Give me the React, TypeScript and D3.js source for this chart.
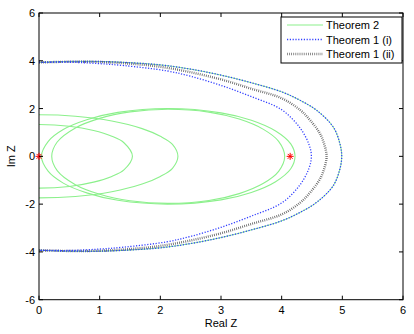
import React from 'react';
import * as d3 from 'd3';

// axis ticks
const xTicks = [0, 1, 2, 3, 4, 5, 6];
const yTicks = [-6, -4, -2, 0, 2, 4, 6];

// Theorem 2 curves, upper halves (real, imag)
const thm2SmallA = [[-0.5, 1.26], [0, 1.33], [0.5, 1.26], [0.9, 1.08], [1.2, 0.84], [1.4, 0.57], [1.54, 0]];
const thm2SmallB = [[-0.6, 1.68], [0, 1.74], [0.6, 1.68], [1.2, 1.48], [1.7, 1.16], [2.0, 0.84], [2.2, 0.5], [2.29, 0]];
const thm2BigC = [[0.04, 0], [0.15, 0.62], [0.4, 1.12], [0.8, 1.54], [1.3, 1.84], [2.13, 2.0], [3.0, 1.82], [3.5, 1.51], [3.9, 1.06], [4.15, 0.52], [4.22, 0]];
const thm2BigD = [[0.21, 0], [0.3, 0.6], [0.6, 1.19], [1.0, 1.59], [1.5, 1.86], [2.13, 1.97], [2.8, 1.85], [3.3, 1.56], [3.7, 1.13], [3.95, 0.63], [4.05, 0]];

// Theorem 1 boundaries, upper halves
const thm1iOuter = [[0, 3.93], [0.5, 3.97], [1.0, 3.97], [1.5, 3.92], [2.0, 3.83], [2.5, 3.65], [3.0, 3.4], [3.5, 3.08], [4.0, 2.7], [4.3, 2.35], [4.58, 1.92], [4.85, 1.23], [4.96, 0.53], [4.99, 0]];
const thm1iInner = [[0, 3.93], [0.5, 3.94], [1.0, 3.88], [1.4, 3.8], [2.1, 3.58], [2.5, 3.35], [3.0, 2.97], [3.5, 2.5], [4.0, 1.95], [4.3, 1.2], [4.45, 0.5], [4.49, 0]];
const thm1ii = [[0, 3.93], [0.5, 3.96], [1.0, 3.95], [1.5, 3.88], [2.0, 3.75], [2.5, 3.52], [3.0, 3.22], [3.5, 2.83], [4.0, 2.43], [4.3, 1.95], [4.47, 1.51], [4.62, 1.0], [4.69, 0.6], [4.74, 0]];

// red star markers
const stars = [[0, 0], [4.14, 0]];

const legendItems = ['Theorem 2', 'Theorem 1 (i)', 'Theorem 1 (ii)'];

const GREEN = '#8cf08c';
const BLUE = '#3340ff';
const DARK = '#3a3a3a';

const W = 414;
const H = 334;
const M = { left: 39, right: 403, top: 13, bottom: 299.7 };
const FONT = '"Liberation Sans", Arial, Helvetica, sans-serif';

// mirror upper half into a full curve going down the other side
const openFull = (pts: number[][]) => {
  const low = pts.slice(0, -1).reverse().map(([x, y]) => [x, -y]);
  return [...pts, ...low];
};
const closedFull = (pts: number[][]) => {
  const low = pts.slice(1, -1).reverse().map(([x, y]) => [x, -y]);
  return [...pts, ...low];
};

export default function App() {
  const x = d3.scaleLinear().domain([0, 6]).range([M.left, M.right]);
  const y = d3.scaleLinear().domain([-6, 6]).range([M.bottom, M.top]);

  const line = d3.line<number[]>().x((d) => x(d[0])).y((d) => y(d[1])).curve(d3.curveCatmullRom.alpha(0.5));
  const loop = d3.line<number[]>().x((d) => x(d[0])).y((d) => y(d[1])).curve(d3.curveCatmullRomClosed.alpha(0.5));

  const tick = 4;
  const star = (cx: number, cy: number, r: number, key: string) => (
    <g key={key} stroke="#ff0000" strokeWidth={1}>
      <line x1={cx - r} y1={cy} x2={cx + r} y2={cy} />
      <line x1={cx} y1={cy - r} x2={cx} y2={cy + r} />
      <line x1={cx - r * 0.7} y1={cy - r * 0.7} x2={cx + r * 0.7} y2={cy + r * 0.7} />
      <line x1={cx - r * 0.7} y1={cy + r * 0.7} x2={cx + r * 0.7} y2={cy - r * 0.7} />
    </g>
  );

  const lx0 = 281, ly0 = 17, lw = 121, lh = 46;

  return (
    <svg width={W} height={H} style={{ position: 'absolute', left: 0, top: 0, background: '#fff' }} fontFamily={FONT}>
      <defs>
        <clipPath id="plot">
          <rect x={M.left} y={M.top} width={M.right - M.left} height={M.bottom - M.top} />
        </clipPath>
      </defs>

      <g clipPath="url(#plot)" fill="none">
        {[thm2SmallA, thm2SmallB].map((p, i) => (
          <path key={'a' + i} d={line(openFull(p)) || ''} stroke={GREEN} strokeWidth={1.1} />
        ))}
        {[thm2BigC, thm2BigD].map((p, i) => (
          <path key={'c' + i} d={loop(closedFull(p)) || ''} stroke={GREEN} strokeWidth={1.1} />
        ))}
        <path d={line(openFull(thm1iOuter)) || ''} stroke={GREEN} strokeWidth={1} />
        <path d={line(openFull(thm1ii)) || ''} stroke={DARK} strokeWidth={2.4} strokeDasharray="0.8,1.3" opacity={0.8} />
        <path d={line(openFull(thm1iInner)) || ''} stroke={BLUE} strokeWidth={1.3} strokeDasharray="1.2,1.6" />
        <path d={line(openFull(thm1iOuter)) || ''} stroke={BLUE} strokeWidth={1.3} strokeDasharray="1.2,1.6" />
      </g>

      {/* box and ticks */}
      <rect x={M.left} y={M.top} width={M.right - M.left} height={M.bottom - M.top} fill="none" stroke="#000" strokeWidth={1} />
      {stars.map(([sx, sy], i) => star(x(sx), y(sy), 3.5, 's' + i))}
      {xTicks.map((t) => (
        <g key={'x' + t}>
          <line x1={x(t)} x2={x(t)} y1={M.bottom} y2={M.bottom - tick} stroke="#000" />
          <line x1={x(t)} x2={x(t)} y1={M.top} y2={M.top + tick} stroke="#000" />
          <text x={x(t)} y={M.bottom + 14} textAnchor="middle" fontSize={11}>{t}</text>
        </g>
      ))}
      {yTicks.map((t) => (
        <g key={'y' + t}>
          <line x1={M.left} x2={M.left + tick} y1={y(t)} y2={y(t)} stroke="#000" />
          <line x1={M.right} x2={M.right - tick} y1={y(t)} y2={y(t)} stroke="#000" />
          <text x={M.left - 4} y={y(t) + 4} textAnchor="end" fontSize={11}>{t}</text>
        </g>
      ))}
      <text x={(M.left + M.right) / 2} y={327} textAnchor="middle" fontSize={11}>Real Z</text>
      <text transform={`translate(15,${y(0)}) rotate(-90)`} textAnchor="middle" fontSize={11}>Im Z</text>

      {/* legend */}
      <rect x={lx0} y={ly0} width={lw} height={lh} fill="#fff" stroke="#000" strokeWidth={1} />
      {legendItems.map((name, i) => {
        const ly = ly0 + 8 + i * 14.5;
        return (
          <g key={name}>
            {i === 0 && <line x1={lx0 + 6} x2={lx0 + 42} y1={ly} y2={ly} stroke={GREEN} strokeWidth={1.1} />}
            {i === 1 && <line x1={lx0 + 6} x2={lx0 + 42} y1={ly} y2={ly} stroke={BLUE} strokeWidth={1.3} strokeDasharray="1.2,1.6" />}
            {i === 2 && <line x1={lx0 + 6} x2={lx0 + 42} y1={ly} y2={ly} stroke={DARK} strokeWidth={2.4} strokeDasharray="0.8,1.3" opacity={0.7} />}
            <text x={lx0 + 45} y={ly + 4} fontSize={11}>{name}</text>
          </g>
        );
      })}
    </svg>
  );
}
